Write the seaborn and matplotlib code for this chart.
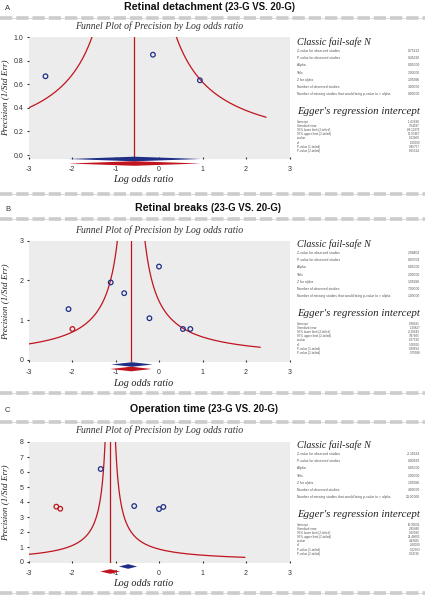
import numpy as np
import matplotlib
matplotlib.use("Agg")
import matplotlib.pyplot as plt
import seaborn as sns
from matplotlib.lines import Line2D

# ---------------- data ----------------
panel_letters = ["A", "B", "C"]
titles_main = ["Retinal detachment", "Retinal breaks", "Operation time"]
title_paren = "(23-G VS. 20-G)"
funnel_title = "Funnel Plot of Precision by Log odds ratio"
x_label = "Log odds ratio"
y_label = "Precision (1/Std Err)"

x_ticks = [-3, -2, -1, 0, 1, 2, 3]
yticks_A = [0.0, 0.2, 0.4, 0.6, 0.8, 1.0]
yticks_B = [0, 1, 2, 3]
yticks_C = [0, 1, 2, 3, 4, 5, 6, 7, 8]

# observed studies (blue) and imputed studies (red)
obs_x_A = [-2.61, -0.14, 0.94]
obs_y_A = [0.667, 0.85, 0.633]
imp_x_A = []
imp_y_A = []

obs_x_B = [-2.08, -1.11, -0.80, 0.00, -0.22, 0.55, 0.72]
obs_y_B = [1.28, 1.95, 1.68, 2.35, 1.05, 0.78, 0.78]
imp_x_B = [-1.99]
imp_y_B = [0.78]

obs_x_C = [-1.34, -0.57, 0.00, 0.10]
obs_y_C = [6.20, 3.73, 3.53, 3.67]
imp_x_C = [-2.36, -2.27]
imp_y_C = [3.69, 3.55]

# summary diamonds: lower, estimate, upper
obs_summary_A = [-2.08, -0.57, 0.96]
adj_summary_A = [-2.08, -0.57, 0.96]
obs_summary_B = [-1.10, -0.62, -0.15]
adj_summary_B = [-1.12, -0.64, -0.17]
obs_summary_C = [-0.92, -0.71, -0.50]
adj_summary_C = [-1.35, -1.12, -0.90]

# funnel limit constant and minimal precision drawn
funnel_k = [0.97, 0.95, 0.96]
funnel_pmin = [0.32, 0.32, 0.31]

classic_labels = [
    "Z-value for observed studies",
    "P-value for observed studies",
    "Alpha",
    "Tails",
    "Z for alpha",
    "Number of observed studies",
    "Number of missing studies that would bring p-value to > alpha",
]
classic_A = ["0.75113", "0.45226", "0.05000", "2.00000", "1.95996", "3.00000", "0.00000"]
classic_B = ["2.08402", "0.03708", "0.05000", "2.00000", "1.95996", "7.00000", "1.00000"]
classic_C = ["-3.11624", "0.00183", "0.05000", "2.00000", "1.95996", "4.00000", "24.00000"]

egger_labels = [
    "Intercept",
    "Standard error",
    "95% lower limit (2-tailed)",
    "95% upper limit (2-tailed)",
    "t-value",
    "df",
    "P-value (1-tailed)",
    "P-value (2-tailed)",
]
egger_A = ["-1.02488", "7.64187", "-98.12379", "96.07467", "0.13409", "1.00000", "0.45757", "0.91514"]
egger_B = ["0.38481", "1.39827", "-3.20443", "3.97405", "0.27520", "5.00000", "0.39694", "0.79388"]
egger_C = ["10.90501", "2.45898", "0.32580", "21.48603", "4.43815", "2.00000", "0.02363", "0.04726"]

# ---------------- style ----------------
sns.set_theme(style="white")
plt.rcParams["font.family"] = ["Liberation Sans", "DejaVu Sans"]

W, H = 425, 610
fig = plt.figure(figsize=(W / 100, H / 100), dpi=100)
fig.patch.set_facecolor("white")

def fx(x):
    return x / W

def fy(y):
    return 1 - y / H

BLUE = "#1f2f86"
RED = "#c0141e"
GRAY_BG = "#ececec"
SERIF = ["Liberation Serif", "DejaVu Serif"]

# separators
for y in [18, 194, 219, 393, 422, 593]:
    fig.add_artist(Line2D([0, 1], [fy(y), fy(y)], transform=fig.transFigure,
                          lw=0.6, color="#d8d8d8"))
    fig.add_artist(Line2D([0, 1], [fy(y), fy(y)], transform=fig.transFigure,
                          lw=2.6, color="#cccccc", dashes=(3.4, 1.1)))

panels = [
    dict(top=37, bottom=159, ymax=1.0, zero=155, yticks=yticks_A, fmt="{:.1f}",
         ox=obs_x_A, oy=obs_y_A, ix=imp_x_A, iy=imp_y_A,
         obs=obs_summary_A, adj=adj_summary_A, doff=(0.0, 4.5),
         title_y=10, split=225, sub_y=26, xl_y=180, base=0,
         classic=classic_A, egger=egger_A),
    dict(top=240.7, bottom=362, ymax=3, zero=360, yticks=yticks_B, fmt="{:.0f}",
         ox=obs_x_B, oy=obs_y_B, ix=imp_x_B, iy=imp_y_B,
         obs=obs_summary_B, adj=adj_summary_B, doff=(2.5, 7.0),
         title_y=211, split=211, sub_y=230, xl_y=384, base=202,
         classic=classic_B, egger=egger_B),
    dict(top=442, bottom=563, ymax=8, zero=562, yticks=yticks_C, fmt="{:.0f}",
         ox=obs_x_C, oy=obs_y_C, ix=imp_x_C, iy=imp_y_C,
         obs=obs_summary_C, adj=adj_summary_C, doff=(3.5, 8.5),
         title_y=412.5, split=208, sub_y=430.5, xl_y=584, base=403,
         classic=classic_C, egger=egger_C),
]

L_PX, R_PX = 28.5, 289.5

for i, p in enumerate(panels):
    ppu = (p["zero"] - p["top"]) / p["ymax"]
    ybot = -(p["bottom"] - p["zero"]) / ppu
    ax = fig.add_axes([fx(L_PX), fy(p["bottom"]), (R_PX - L_PX) / W,
                       (p["bottom"] - p["top"]) / H])
    ax.set_facecolor(GRAY_BG)
    for s in ax.spines.values():
        s.set_visible(False)
    ax.set_xlim(-3, 3)
    ax.set_ylim(ybot, p["ymax"])

    # funnel
    center = p["adj"][1]
    prec = np.linspace(funnel_pmin[i], p["ymax"] * 1.05, 500)
    ax.plot(center - funnel_k[i] / prec, prec, color=RED, lw=0.9)
    ax.plot(center + funnel_k[i] / prec, prec, color=RED, lw=0.9)
    ax.axvline(center, color=RED, lw=0.9)

    # studies
    sns.scatterplot(x=p["ox"], y=p["oy"], ax=ax, marker="o", s=11,
                    facecolor="none", edgecolor=BLUE, linewidth=0.9, zorder=3)
    if len(p["ix"]):
        sns.scatterplot(x=p["ix"], y=p["iy"], ax=ax, marker="o", s=11,
                        facecolor="none", edgecolor=RED, linewidth=0.9, zorder=3)

    # diamonds
    hh = 2.3 / ppu
    for summ, off, col in [(p["obs"], p["doff"][0], BLUE), (p["adj"], p["doff"][1], RED)]:
        yc = ybot - off / ppu
        lo, est, hi = summ
        ax.fill([lo, est, hi, est], [yc, yc + hh, yc, yc - hh], color=col,
                lw=0, clip_on=False, zorder=4)

    ax.set_xticks(x_ticks)
    ax.set_xticklabels([str(t) for t in x_ticks])
    ax.set_yticks(p["yticks"])
    ax.set_yticklabels([p["fmt"].format(t) for t in p["yticks"]])
    ax.tick_params(axis="x", direction="in", length=1.5, width=0.8, pad=5,
                   labelsize=5, colors="#333333", bottom=True)
    ax.tick_params(axis="y", direction="out", length=1.5, width=0.8, pad=2,
                   labelsize=5, colors="#333333", left=True)
    ax.grid(False)

    # texts
    fig.text(fx(5), fy(p["title_y"]), panel_letters[i], fontsize=5.5,
             color="#333333", va="baseline", ha="left")
    fig.text(fx(p["split"]), fy(p["title_y"]), titles_main[i] + " ",
             fontsize=7.7, fontweight="bold", color="#111111",
             va="baseline", ha="right")
    fig.text(fx(p["split"]), fy(p["title_y"]), title_paren, fontsize=6.9,
             fontweight="bold", color="#111111", va="baseline", ha="left")
    fig.text(fx((L_PX + R_PX) / 2), fy(p["sub_y"]), funnel_title,
             family=SERIF, style="italic", fontsize=7.0, color="#333333",
             ha="center", va="center")
    fig.text(fx(143.5), fy(p["xl_y"]), x_label, family=SERIF, style="italic",
             fontsize=7.3, color="#222222", ha="center", va="center")
    fig.text(fx(5.5), fy((p["top"] + p["bottom"]) / 2), y_label, family=SERIF,
             style="italic", fontsize=6.6, color="#222222", ha="center",
             va="center", rotation=90)

    # statistics block
    b = p["base"]
    fig.text(fx(297), fy(42 + b), "Classic fail-safe N", family=SERIF,
             style="italic", fontsize=7.2, color="#222222", ha="left", va="center")
    for j, (lab, val) in enumerate(zip(classic_labels, p["classic"])):
        yy = 51 + b + j * 7.2
        fig.text(fx(297), fy(yy), lab, fontsize=2.4, color="#555555",
                 ha="left", va="center")
        fig.text(fx(420), fy(yy), val, fontsize=2.4, color="#555555",
                 ha="right", va="center")
    fig.text(fx(297), fy(111.5 + b), "Egger's regression intercept", family=SERIF,
             style="italic", fontsize=7.8, color="#222222", ha="left", va="center")
    for j, (lab, val) in enumerate(zip(egger_labels, p["egger"])):
        yy = 122 + b + j * 4.1
        fig.text(fx(297), fy(yy), lab, fontsize=2.2, color="#555555",
                 ha="left", va="center")
        fig.text(fx(420), fy(yy), val, fontsize=2.2, color="#555555",
                 ha="right", va="center")

fig.savefig("out.png", dpi=100)
